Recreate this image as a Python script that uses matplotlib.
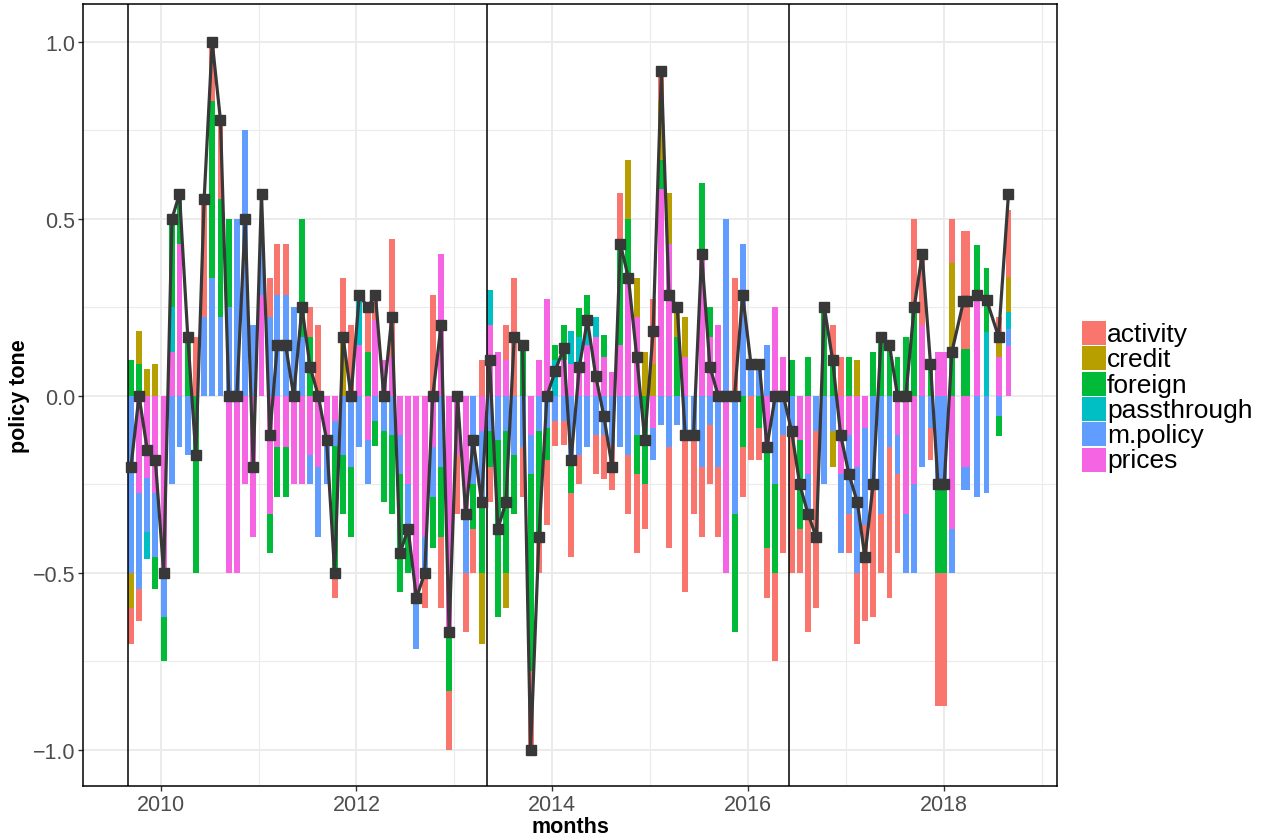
import matplotlib
matplotlib.use("Agg")
import matplotlib.pyplot as plt
import matplotlib.dates as mdates
from matplotlib.patches import Rectangle
import numpy as np
import pandas as pd

plt.rcParams['font.family'] = ['Liberation Sans', 'DejaVu Sans']

# ---------------- data ----------------
dates = [
    "2009-09-12", "2009-10-12", "2009-11-12", "2009-12-12",
    "2010-01-12", "2010-02-12", "2010-03-12", "2010-04-12", "2010-05-12", "2010-06-12",
    "2010-07-12", "2010-08-12", "2010-09-12", "2010-10-12", "2010-11-12", "2010-12-12",
    "2011-01-12", "2011-02-12", "2011-03-12", "2011-04-12", "2011-05-12", "2011-06-12",
    "2011-07-12", "2011-08-12", "2011-09-12", "2011-10-12", "2011-11-12", "2011-12-12",
    "2012-01-12", "2012-02-12", "2012-03-12", "2012-04-12", "2012-05-12", "2012-06-12",
    "2012-07-12", "2012-08-12", "2012-09-12", "2012-10-12", "2012-11-12", "2012-12-12",
    "2013-01-12", "2013-02-12", "2013-03-12", "2013-04-12", "2013-05-12", "2013-06-12",
    "2013-07-12", "2013-08-12", "2013-09-12", "2013-10-12", "2013-11-12", "2013-12-12",
    "2014-01-12", "2014-02-12", "2014-03-12", "2014-04-12", "2014-05-12", "2014-06-12",
    "2014-07-12", "2014-08-12", "2014-09-12", "2014-10-12", "2014-11-12", "2014-12-12",
    "2015-01-12", "2015-02-12", "2015-03-12", "2015-04-12", "2015-05-12", "2015-06-12",
    "2015-07-12", "2015-08-12", "2015-09-12", "2015-10-12", "2015-11-12", "2015-12-12",
    "2016-01-12", "2016-02-12", "2016-03-12", "2016-04-12", "2016-05-12", "2016-06-12",
    "2016-07-12", "2016-08-12", "2016-09-12", "2016-10-12", "2016-11-12", "2016-12-12",
    "2017-01-12", "2017-02-12", "2017-03-12", "2017-04-12", "2017-05-12", "2017-06-12",
    "2017-07-12", "2017-08-12", "2017-09-12", "2017-10-12", "2017-11-12",
    "2017-12-10", "2018-01-02", "2018-01-31", "2018-03-15", "2018-03-28",
    "2018-05-05", "2018-06-09", "2018-07-24", "2018-08-30",
]

activity = [
    -0.1, -0.091, 0, 0, 0, 0, 0, 0, 0.167, 0.333, 0.167, 0.222, 0, 0, 0, 0,
    0, 0.111, 0.143, 0.143, 0, 0, 0.083, 0.2, 0, -0.071, 0.167, 0.2,
    0, 0.125, 0.071, 0, 0.333, 0, 0, 0, -0.1, 0.286, -0.2, -0.167,
    -0.167, -0.167, -0.125, 0.1, -0.1, 0, 0.1, 0.333, -0.143, -0.222, -0.1, -0.182,
    -0.071, -0.067, -0.182, -0.083, 0, -0.111, -0.125, -0.126,
    0.143, -0.167, -0.222, -0.125, 0.182, 0.083, -0.286, 0, -0.444, -0.222, -0.2, -0.167,
    -0.2, 0, 0.333, -0.143, -0.182, -0.091, -0.143, -0.25, -0.333, -0.4, -0.125, -0.333,
    -0.5, 0, 0.1, 0.111, -0.111, -0.2, -0.273, -0.375, -0.167, -0.429, -0.222, 0,
    0.25, 0.2, -0.091,
    -0.375, -0.375, 0.125, 0.333, 0.333, 0, 0, 0.07, 0.19,
]
credit = [
    -0.1, 0.091, 0.077, 0.091, 0, 0, 0, 0, 0, 0, 0, 0, 0, 0, 0, 0,
    0, 0, 0, 0, 0, 0, 0, 0, 0, 0, 0.167, 0,
    0, 0, 0, 0, 0, 0, 0, 0, 0, 0, 0, 0,
    0, 0, 0, -0.2, 0, 0, -0.1, 0, 0, 0, 0, 0,
    0, 0, 0, 0, 0, 0, 0, 0,
    0, 0.167, 0.111, 0.125, 0.091, 0.167, 0.143, 0.083, 0.111, 0, 0, 0,
    0, 0, 0, 0, 0, 0, 0, 0, 0, 0, 0, 0,
    0, 0, -0.1, 0, 0, 0.1, 0, 0, 0, 0, 0, 0,
    0, 0, 0,
    0, 0, 0.25, 0, 0, 0, 0, 0.041, 0.1,
]
foreign = [
    0.1, 0.091, 0, -0.091, -0.125, 0.25, 0.143, 0.167, -0.5, 0, 0.5, 0.333, 0.25, 0, 0, 0,
    0, -0.111, -0.143, -0.143, 0, 0.333, 0.167, 0, 0, -0.357, -0.167, -0.2,
    0, 0.125, -0.071, -0.2, -0.222, -0.333, -0.125, 0, 0, -0.143, -0.2, -0.167,
    0, 0, -0.125, -0.2, -0.1, -0.5, -0.4, -0.167, 0.143, -0.556, -0.3, -0.091,
    0.043, 0.1, -0.091, 0.083, 0.071, 0, 0.06, 0,
    0.286, 0.167, -0.111, -0.25, 0, 0.083, 0, 0.167, 0, 0, 0.2, 0.083,
    0, 0, -0.333, -0.143, 0, -0.091, -0.286, -0.25, 0, 0.1, -0.25, 0.111,
    0, 0.25, 0.1, 0, 0.111, 0, 0, 0.125, 0.167, 0.143, 0.111, 0.167,
    0.25, 0, 0.091,
    -0.25, -0.25, 0.125, 0.133, 0.133, 0.157, 0.18, -0.055, 0,
]
passthrough = [
    0, 0, -0.077, 0, 0, 0.125, 0, 0, 0, 0, 0, 0, 0, 0, 0, 0,
    0, 0, 0, 0, 0, 0, 0, 0, 0, 0, 0, 0,
    0.143, 0, 0, 0, 0, 0, 0, 0, 0, 0, 0, 0,
    0, 0, 0, 0, 0.1, 0, 0, 0, 0, 0, 0, 0,
    0.1, 0, 0.091, 0.083, 0.071, 0.056, 0, 0,
    0, 0, 0, 0, 0, 0, 0, 0, 0, 0, 0, 0,
    0, 0, 0, 0, 0, 0, 0, 0, 0, 0, 0, 0,
    0, 0, 0, 0, 0, 0, 0, 0, 0, 0, 0, 0,
    0, 0, 0,
    0, 0, 0, 0, 0, 0, 0.18, 0, 0.048,
]
mpolicy = [
    -0.5, -0.273, -0.154, -0.182, -0.125, -0.25, -0.143, -0.167, 0, 0.222, 0.333, 0.222, 0.25, 0.5, 0.75, 0.2,
    0.143, 0.222, 0.286, 0.286, 0.25, 0.167, -0.083, -0.2, -0.125, -0.071, -0.167, -0.2,
    -0.143, -0.125, -0.071, -0.1, -0.111, -0.111, -0.125, -0.143, -0.1, -0.143, -0.2, 0,
    0, -0.167, -0.25, -0.2, -0.1, -0.125, -0.1, -0.167, -0.143, -0.111, -0.1, -0.091,
    -0.071, -0.071, -0.182, -0.167, -0.143, -0.111, -0.111, -0.14,
    -0.143, -0.167, -0.111, 0, -0.091, -0.083, -0.143, -0.083, -0.111, -0.111, -0.2, -0.083,
    -0.2, 0.5, -0.333, 0.429, 0.091, 0.091, 0.143, -0.25, -0.111, -0.1, 0, -0.111,
    -0.1, -0.25, -0.1, -0.222, -0.222, -0.3, -0.273, -0.25, -0.333, -0.143, -0.111, -0.167,
    -0.25, -0.2, -0.091,
    -0.25, -0.25, -0.125, -0.067, -0.067, -0.286, -0.274, -0.057, 0.048,
]
prices = [
    0, -0.273, -0.231, -0.273, -0.5, 0.125, 0.429, 0, 0, 0, 0, 0, -0.5, -0.5, -0.25, -0.4,
    0.286, -0.333, -0.143, -0.143, -0.25, -0.25, -0.167, -0.2, -0.125, -0.071, 0, 0,
    0.143, -0.125, 0.214, 0.1, 0.111, -0.111, -0.25, -0.571, -0.4, -0.143, 0.4, -0.667,
    -0.167, -0.333, 0, -0.1, 0.2, 0.125, 0.1, 0, 0, -0.111, 0.1, 0.273,
    0, 0.1, 0.091, 0.083, 0.143, 0.167, 0.111, 0.067,
    0.143, 0.333, 0.222, 0, -0.091, 0.583, 0.429, 0, 0.111, 0, 0.4, 0.167,
    0.2, -0.5, 0, 0, 0, 0, -0.143, 0.25, 0.111, 0, -0.125, -0.222,
    0, 0, 0, -0.222, -0.111, -0.2, -0.091, 0, 0, 0, -0.111, -0.333,
    -0.25, 0.2, 0,
    0.125, 0.125, -0.375, -0.2, -0.2, 0.27, 0, 0.111, 0.14,
]
tone = [
    -0.2, 0, -0.154, -0.182, -0.5, 0.5, 0.571, 0.167, -0.167, 0.556, 1.0, 0.778, 0, 0, 0.5, -0.2,
    0.571, -0.111, 0.143, 0.143, 0, 0.25, 0.083, 0, -0.125, -0.5, 0.167, 0,
    0.286, 0.25, 0.286, 0, 0.222, -0.444, -0.375, -0.571, -0.5, 0, 0.2, -0.667,
    0, -0.333, -0.125, -0.3, 0.1, -0.375, -0.3, 0.167, 0.143, -1.0, -0.4, 0,
    0.071, 0.134, -0.182, 0.083, 0.214, 0.056, -0.056, -0.2,
    0.429, 0.333, 0.111, -0.125, 0.182, 0.917, 0.286, 0.25, -0.111, -0.111, 0.4, 0.083,
    0, 0, 0, 0.286, 0.091, 0.091, -0.143, 0, 0, -0.1, -0.25, -0.333,
    -0.4, 0.25, 0.1, -0.111, -0.222, -0.3, -0.455, -0.25, 0.167, 0.143, 0, 0,
    0.25, 0.4, 0.091,
    -0.25, -0.25, 0.125, 0.267, 0.267, 0.286, 0.272, 0.167, 0.571,
]

categories = ["activity", "credit", "foreign", "passthrough", "m.policy", "prices"]
colors = ["#F8766D", "#B79F00", "#00BA38", "#00BFC4", "#619CFF", "#F564E3"]
regime_changes = ["2009-09-01", "2013-05-01", "2016-06-01"]
year_ticks = [2010, 2012, 2014, 2016, 2018]
y_ticks = [-1.0, -0.5, 0.0, 0.5, 1.0]
y_tick_labels = ["\u22121.0", "\u22120.5", "0.0", "0.5", "1.0"]

# ---------------- figure ----------------
W, H = 1266, 837
fig = plt.figure(figsize=(W / 100, H / 100), dpi=100)
ax = fig.add_axes([83 / W, 50 / H, 974 / W, 782 / H])

x = mdates.date2num(pd.to_datetime(dates).to_pydatetime())
series = {"activity": activity, "credit": credit, "foreign": foreign,
          "passthrough": passthrough, "m.policy": mpolicy, "prices": prices}

bar_w = 22.0
pos_base = np.zeros(len(x))
neg_base = np.zeros(len(x))
for cat, col in reversed(list(zip(categories, colors))):
    v = np.array(series[cat], dtype=float)
    pos = np.clip(v, 0, None)
    neg = np.clip(v, None, 0)
    ax.bar(x, pos, bottom=pos_base, width=bar_w, color=col, linewidth=0, zorder=2)
    ax.bar(x, neg, bottom=neg_base, width=bar_w, color=col, linewidth=0, zorder=2)
    pos_base += pos
    neg_base += neg

for d in regime_changes:
    ax.axvline(mdates.date2num(pd.Timestamp(d).to_pydatetime()), color="black", lw=1.1, zorder=3)

ax.plot(x, tone, color="#383838", lw=2.3, marker="s", markersize=7.2, zorder=4)

# axes styling
d2010 = mdates.date2num(pd.Timestamp("2010-01-01").to_pydatetime())
major_x = [mdates.date2num(pd.Timestamp(f"{y}-01-01").to_pydatetime()) for y in year_ticks]
minor_x = [mdates.date2num(pd.Timestamp(f"{y}-01-01").to_pydatetime()) for y in [2009, 2011, 2013, 2015, 2017, 2019]]
ax.set_xticks(major_x)
ax.set_xticklabels([str(y) for y in year_ticks])
ax.set_xticks(minor_x, minor=True)
ax.set_yticks(y_ticks)
ax.set_yticklabels(y_tick_labels)
ax.set_yticks([-0.75, -0.25, 0.25, 0.75], minor=True)
ax.set_xlim(d2010 - 290, d2010 + 3344)
ax.set_ylim(-1.102, 1.107)

ax.grid(which="major", color="#EBEBEB", lw=1.4, zorder=0)
ax.grid(which="minor", color="#EBEBEB", lw=0.8, zorder=0)
ax.set_axisbelow(True)
ax.tick_params(which="major", length=3.5, width=1.0, color="#333333",
               labelsize=15.5, labelcolor="#4D4D4D", pad=2)
ax.tick_params(which="minor", length=0)
for s in ax.spines.values():
    s.set_color("black")
    s.set_linewidth(1.1)

ax.set_xlabel("months", fontsize=15.5, fontweight="bold", labelpad=1)
ax.set_ylabel("policy tone", fontsize=15.5, fontweight="bold", labelpad=2)

# legend (manual)
key_x, key_w, key_h = 1082, 24, 24
row_tops = [322, 347.3, 372.6, 397.9, 423.2, 448.5]
for cat, col, top in zip(categories, colors, row_tops):
    fig.patches.append(Rectangle((key_x / W, 1 - (top + key_h) / H), key_w / W, key_h / H,
                                 transform=fig.transFigure, facecolor=col, edgecolor="none"))
    fig.text((key_x + key_w + 1) / W, 1 - (top + key_h / 2 + 1) / H, cat,
             fontsize=19, va="center", ha="left", color="black")

fig.savefig("out.png", dpi=100)
